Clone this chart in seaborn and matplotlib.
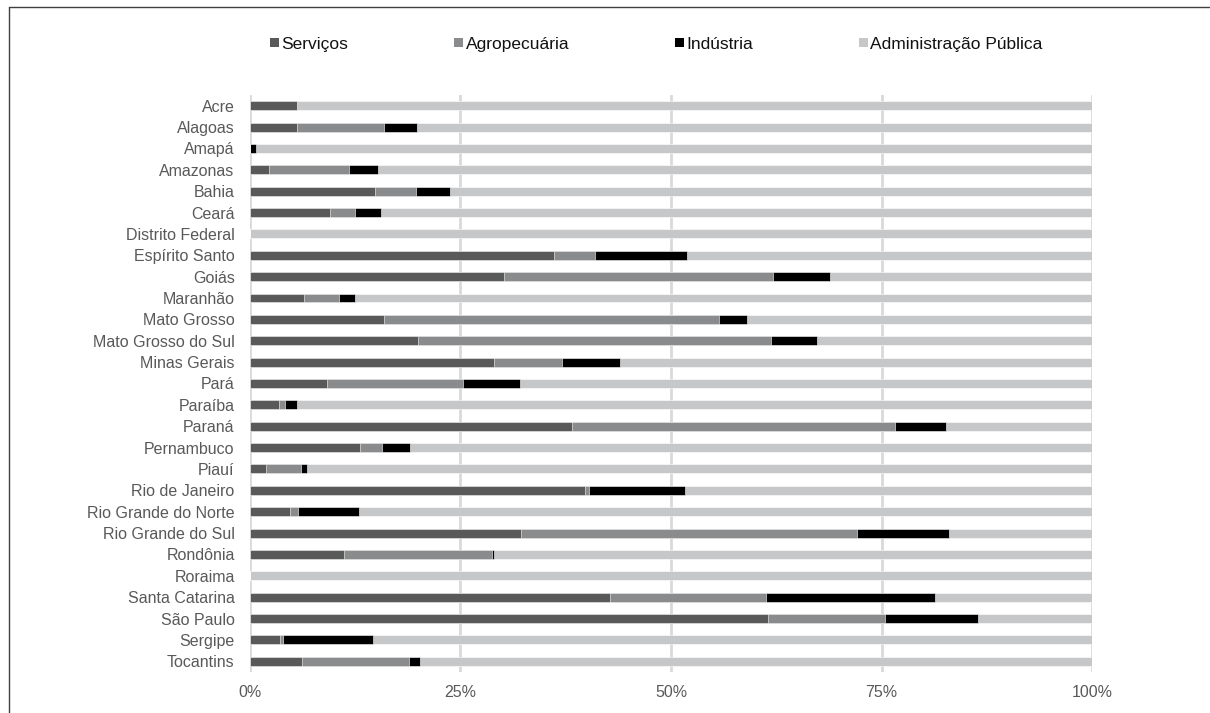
import matplotlib
matplotlib.use("Agg")
import matplotlib.pyplot as plt
from matplotlib.patches import Patch
from matplotlib.lines import Line2D
import numpy as np
import pandas as pd
import seaborn as sns

# Share (%) of each sector per state
estados = [
    "Acre", "Alagoas", "Amapá", "Amazonas", "Bahia", "Ceará", "Distrito Federal",
    "Espírito Santo", "Goiás", "Maranhão", "Mato Grosso", "Mato Grosso do Sul",
    "Minas Gerais", "Pará", "Paraíba", "Paraná", "Pernambuco", "Piauí",
    "Rio de Janeiro", "Rio Grande do Norte", "Rio Grande do Sul", "Rondônia",
    "Roraima", "Santa Catarina", "São Paulo", "Sergipe", "Tocantins",
]
servicos = [5.6, 5.6, 0.0, 2.3, 14.8, 9.5, 0.0, 36.1, 30.2, 6.4, 15.9, 20.0,
            29.0, 9.2, 3.5, 38.3, 13.1, 1.9, 39.8, 4.7, 32.2, 11.2, 0.0,
            42.7, 61.5, 3.6, 6.2]
agropecuaria = [0.0, 10.3, 0.0, 9.5, 4.9, 3.0, 0.0, 4.9, 31.9, 4.2, 39.8, 41.9,
                8.1, 16.1, 0.7, 38.3, 2.6, 4.1, 0.5, 1.0, 39.9, 17.6, 0.0,
                18.6, 13.9, 0.3, 12.7]
industria = [0.0, 3.9, 0.7, 3.4, 4.1, 3.0, 0.0, 10.9, 6.8, 1.9, 3.3, 5.4,
             6.9, 6.8, 1.4, 6.1, 3.3, 0.8, 11.4, 7.3, 10.9, 0.2, 0.0,
             20.1, 11.0, 10.7, 1.3]
administracao = [100 - s - a - i for s, a, i in zip(servicos, agropecuaria, industria)]

setores = ["Serviços", "Agropecuária", "Indústria", "Administração Pública"]
cores = ["#595959", "#8a8b8c", "#000000", "#c6c7c9"]
ticks = [0, 25, 50, 75, 100]
tick_labels = ["0%", "25%", "50%", "75%", "100%"]

df = pd.DataFrame({
    "estado": estados,
    "Serviços": servicos,
    "Agropecuária": agropecuaria,
    "Indústria": industria,
    "Administração Pública": administracao,
})
acum = df[setores].cumsum(axis=1)

sns.set_style("white")
plt.rcParams["font.family"] = ["Liberation Sans", "DejaVu Sans"]

fig = plt.figure(figsize=(12.10, 7.13), dpi=100)
ax = fig.add_axes([0.2066, 0.0575, 0.6959, 0.8093])

# Stacked bars: draw cumulative totals from the longest to the shortest
for setor, cor in reversed(list(zip(setores, cores))):
    sns.barplot(x=acum[setor], y=df["estado"], orient="h", color=cor,
                width=0.42, edgecolor="white", linewidth=0.4, ax=ax,
                saturation=1, zorder=3)

ax.set_xlim(0, 100)
ax.set_ylim(len(estados) - 0.5, -0.5)
ax.set_xticks(ticks)
ax.set_xticklabels(tick_labels)
ax.set_xlabel("")
ax.set_ylabel("")
ax.grid(axis="x", color="#d9d9d9", linewidth=2, zorder=0)
ax.grid(axis="y", visible=False)
for s in ax.spines.values():
    s.set_visible(False)
ax.tick_params(axis="both", length=0, labelsize=11.5, colors="#595959")
ax.tick_params(axis="x", pad=9)
ax.tick_params(axis="y", pad=11)

handles = [Patch(facecolor=c, edgecolor="none") for c in cores]
fig.legend(handles, setores, loc="center", bbox_to_anchor=(0.5425, 0.938),
           ncol=4, frameon=False, fontsize=12.5, handlelength=0.5,
           handleheight=0.5, handletextpad=0.15, columnspacing=6.1,
           labelcolor="#111111")

# Frame lines along the top and left edges of the figure
fig.add_artist(Line2D([9 / 1210, 9 / 1210], [0, 1 - 7 / 713],
                      transform=fig.transFigure, color="#404040", linewidth=1))
fig.add_artist(Line2D([9 / 1210, 1], [1 - 7 / 713, 1 - 7 / 713],
                      transform=fig.transFigure, color="#404040", linewidth=1))

fig.savefig("out.png", dpi=100)
